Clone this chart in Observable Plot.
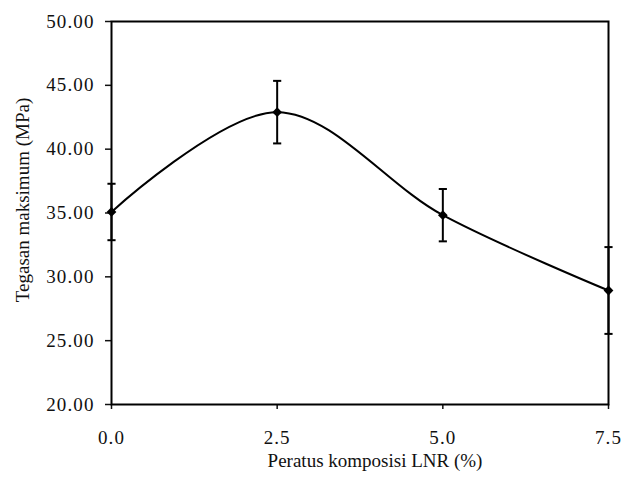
<!DOCTYPE html>
<html>
<head>
<meta charset="utf-8">
<script src="https://cdn.jsdelivr.net/npm/d3@7"></script>
<script src="https://cdn.jsdelivr.net/npm/@observablehq/plot@0.6"></script>
<style>
  html, body { margin: 0; padding: 0; background: #fff; }
  #chart svg { display: block; }
</style>
</head>
<body>
<div id="chart"></div>
<script>
// Data
const composition = [0, 2.5, 5.0, 7.5];            // Peratus komposisi LNR (%)
const stress      = [35.08, 42.90, 34.83, 28.93];  // Tegasan maksimum (MPa)
const stressErr   = [2.21, 2.45, 2.05, 3.40];      // error bar half-length (MPa)
const xTicks = [0, 2.5, 5.0, 7.5];
const yTicks = [20, 25, 30, 35, 40, 45, 50];
const xLabel = "Peratus komposisi LNR (%)";
const yLabel = "Tegasan maksimum (MPa)";

const data = composition.map((c, i) => ({
  x: c, y: stress[i], lo: stress[i] - stressErr[i], hi: stress[i] + stressErr[i]
}));

// horizontal-line symbol for error-bar caps
const capSymbol = {
  draw(context, size) {
    const w = Math.sqrt(size) / 2;
    context.moveTo(-w, 0);
    context.lineTo(w, 0);
  }
};

const serif = "'Liberation Serif', 'Times New Roman', serif";

const chart = Plot.plot({
  width: 627,
  height: 477,
  marginLeft: 111,
  marginRight: 19,
  marginTop: 21,
  marginBottom: 73,
  style: { fontFamily: serif, color: "#111", background: "#fff" },
  x: { domain: [0, 7.5] },
  y: { domain: [20, 50] },
  marks: [
    Plot.axisX({ ticks: xTicks, tickFormat: d3.format(".1f"), tickSize: 5, tickPadding: 21, label: null, strokeWidth: 1.5 }),
    Plot.axisY({ ticks: yTicks, tickFormat: d3.format(".2f"), tickSize: 6, tickPadding: 11, label: null, strokeWidth: 1.5 }),
    Plot.frame({ stroke: "#000", strokeWidth: 2 }),
    Plot.ruleX(data, { x: "x", y1: "lo", y2: "hi", stroke: "#000", strokeWidth: 2 }),
    Plot.dot(data, { x: "x", y: "lo", symbol: capSymbol, r: 4.6, stroke: "#000", strokeWidth: 2, fill: "none" }),
    Plot.dot(data, { x: "x", y: "hi", symbol: capSymbol, r: 4.6, stroke: "#000", strokeWidth: 2, fill: "none" }),
    Plot.line(data, { x: "x", y: "y", curve: "catmull-rom", stroke: "#000", strokeWidth: 2 }),
    Plot.dot(data, { x: "x", y: "y", symbol: "diamond2", r: 4.4, fill: "#000", stroke: "none" }),
    Plot.text([xLabel], { frameAnchor: "bottom", textAnchor: "middle", dx: 15, dy: 62, fill: "#111" }),
    Plot.text([yLabel], { frameAnchor: "left", textAnchor: "middle", dx: -89, dy: -13, rotate: -90, fill: "#111" })
  ]
});

// typography: serif tick labels with Excel-like spacing, larger axis titles
d3.select(chart).selectAll("text").each(function () {
  const t = this.textContent;
  const s = this.style;
  s.fontFamily = serif;
  if (t === xLabel || t === yLabel) {
    s.fontSize = "19px";
  } else {
    s.fontSize = "19px";
    s.letterSpacing = "1.1px";
  }
});

document.getElementById("chart").appendChild(chart);
</script>
</body>
</html>
